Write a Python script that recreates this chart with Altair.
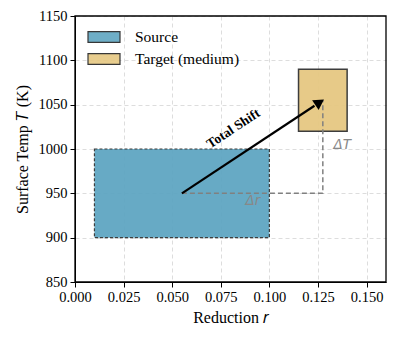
import math
import altair as alt
import pandas as pd

# ---- data ----
series = ["Source", "Target (medium)"]
r_lo = [0.01, 0.115]
r_hi = [0.10, 0.140]
t_lo = [900, 1020]
t_hi = [1000, 1090]
colors = ["#5fa6c2", "#e6c882"]

src_center = (0.055, 950)
tgt_center = (0.1275, 1055)

x_ticks = [0.0, 0.025, 0.05, 0.075, 0.1, 0.125, 0.15]
y_ticks = [850, 900, 950, 1000, 1050, 1100, 1150]

W, H = 311, 266
XDOM = [0, 0.16]
YDOM = [850, 1150]

rects = pd.DataFrame({"series": series, "x": r_lo, "x2": r_hi, "y": t_lo, "y2": t_hi})

xs = alt.Scale(domain=XDOM, nice=False, zero=False)
ys = alt.Scale(domain=YDOM, nice=False, zero=False)
FONT = "Liberation Serif"

xax = alt.Axis(values=x_ticks, format=".3f", title="Reduction 𝑟", grid=True)
yax = alt.Axis(values=y_ticks, format="d", title="Surface Temp 𝑇 (K)", grid=True)

color = alt.Color("series:N", scale=alt.Scale(domain=series, range=colors),
                  legend=alt.Legend(title=None, orient="none", legendX=12, legendY=10,
                                    symbolType="M-1,-0.34H1V0.34H-1Z", symbolSize=1024,
                                    symbolStrokeColor="#222222", symbolStrokeWidth=1.2,
                                    symbolOpacity=0.9, labelFontSize=15.5, labelFont=FONT,
                                    labelColor="black", clipHeight=22, labelOffset=14,
                                    rowPadding=0, padding=0))

src_rect = alt.Chart(rects[rects.series == "Source"]).mark_rect(
    opacity=0.95, stroke="#333333", strokeWidth=1.2, strokeDash=[3, 2]
).encode(x=alt.X("x:Q", scale=xs, axis=xax), x2="x2", y=alt.Y("y:Q", scale=ys, axis=yax), y2="y2",
         color=color)

tgt_rect = alt.Chart(rects[rects.series == "Target (medium)"]).mark_rect(
    opacity=0.95, stroke="#333333", strokeWidth=1.5
).encode(x=alt.X("x:Q", scale=xs), x2="x2", y=alt.Y("y:Q", scale=ys), y2="y2",
         color=alt.Color("series:N", scale=alt.Scale(domain=series, range=colors), legend=None))

path = pd.DataFrame({"x": [src_center[0], tgt_center[0], tgt_center[0]],
                     "y": [src_center[1], src_center[1], tgt_center[1]],
                     "o": [0, 1, 2]})
dash = alt.Chart(path).mark_line(color="#808080", strokeWidth=1.5, strokeDash=[5, 3]).encode(
    x=alt.X("x:Q", scale=xs), y=alt.Y("y:Q", scale=ys), order="o")

# arrow geometry in pixel units
dxp = (tgt_center[0] - src_center[0]) * W / (XDOM[1] - XDOM[0])
dyp = (tgt_center[1] - src_center[1]) * H / (YDOM[1] - YDOM[0])
L = math.hypot(dxp, dyp)
ang = math.degrees(math.atan2(dxp, dyp))
back = 5.5 / L
head_x = tgt_center[0] - (tgt_center[0] - src_center[0]) * back
head_y = tgt_center[1] - (tgt_center[1] - src_center[1]) * back
shaft_end_x = tgt_center[0] - (tgt_center[0] - src_center[0]) * (10.0 / L)
shaft_end_y = tgt_center[1] - (tgt_center[1] - src_center[1]) * (10.0 / L)

shaft = alt.Chart(pd.DataFrame({"x": [src_center[0], shaft_end_x], "y": [src_center[1], shaft_end_y]})
                  ).mark_line(color="black", strokeWidth=2.2).encode(
    x=alt.X("x:Q", scale=xs), y=alt.Y("y:Q", scale=ys))
head = alt.Chart(pd.DataFrame({"x": [head_x], "y": [head_y]})).mark_point(
    shape="triangle", filled=True, color="black", opacity=1, size=140, angle=ang
).encode(x=alt.X("x:Q", scale=xs), y=alt.Y("y:Q", scale=ys))

text_ang = 360 - math.degrees(math.atan2(dyp, dxp))
lbl = alt.Chart(pd.DataFrame({"x": [0.0815], "y": [1023], "t": ["Total Shift"]})).mark_text(
    font=FONT, fontWeight="bold", fontSize=13.5, angle=text_ang, color="black"
).encode(x=alt.X("x:Q", scale=xs), y=alt.Y("y:Q", scale=ys), text="t")

dl = alt.Chart(pd.DataFrame({"x": [0.0915, 0.1375], "y": [941, 1005], "t": ["Δr", "ΔT"]})).mark_text(
    font="DejaVu Sans", fontStyle="italic", fontSize=13.5, color="#888888"
).encode(x=alt.X("x:Q", scale=xs), y=alt.Y("y:Q", scale=ys), text="t")

frame = alt.Chart(pd.DataFrame({"a": [0]})).mark_rect(
    fill=None, stroke="black", strokeWidth=1.3
).encode(x=alt.value(0), x2=alt.value(W), y=alt.value(0), y2=alt.value(H))

chart = alt.layer(src_rect, tgt_rect, dash, shaft, head, lbl, dl, frame).properties(
    width=W, height=H, autosize=alt.AutoSizeParams(type="none"),
    padding={"left": 67, "top": 8, "right": 4, "bottom": 48}
).configure_view(stroke=None).configure_axis(
    labelFont=FONT, titleFont=FONT, labelFontSize=14.5, titleFontSize=16,
    labelColor="black", titleColor="black", domainColor="black", tickColor="black",
    tickSize=5, labelPadding=3, gridColor="#dddddd", gridDash=[4, 3], gridWidth=1,
    titleFontWeight="normal", labelFlush=False, labelOverlap=False, labelBound=False
).configure_axisX(titlePadding=6).configure_axisY(titlePadding=8)

chart.save("out.html", embed_options={"renderer": "svg", "actions": False})
